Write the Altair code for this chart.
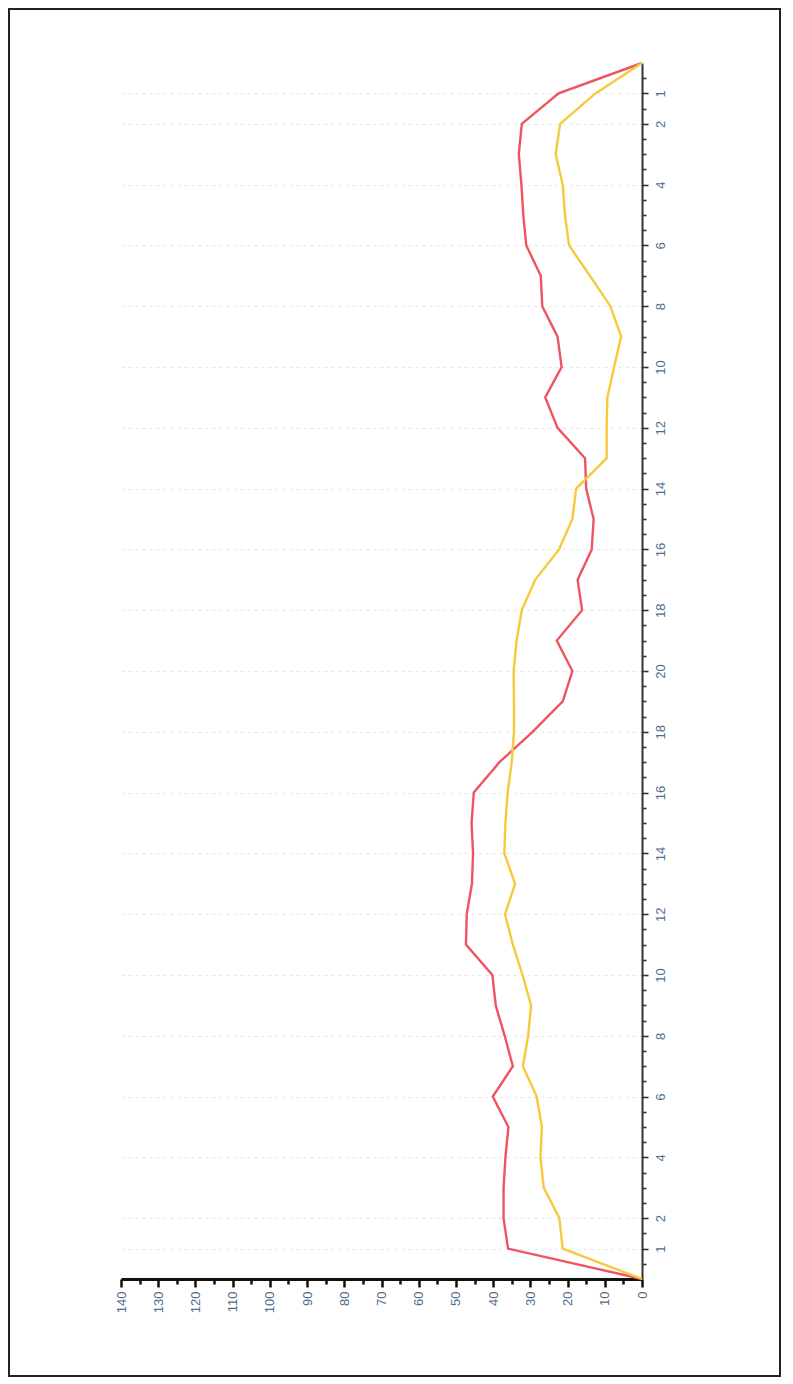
import altair as alt
import pandas as pd

# Category positions along the (rotated) category axis: 0 .. 40
positions = list(range(41))

red_values = [0, 22.4, 32.3, 33.1, 32.4, 31.9, 31.1, 27.2, 26.8, 22.7, 21.6,
              26.0, 22.7, 15.3, 15.0, 13.0, 13.5, 17.3, 16.1, 22.9, 18.7,
              21.3, 29.4, 38.3, 45.2, 45.8, 45.4, 45.7, 47.1, 47.3, 40.2,
              39.3, 36.9, 34.7, 40.1, 35.9, 36.7, 37.2, 37.2, 36.0, 0]

yellow_values = [0, 12.5, 22.0, 23.2, 21.3, 20.7, 19.6, 14.0, 8.5, 5.6, 7.5,
                 9.3, 9.5, 9.5, 17.7, 18.7, 22.3, 28.7, 32.3, 33.7, 34.5,
                 34.4, 34.4, 35.0, 36.1, 36.7, 37.0, 34.1, 36.8, 34.7, 32.1,
                 29.8, 30.6, 32.0, 28.3, 26.9, 27.3, 26.4, 22.2, 21.3, 0]

y_tick_positions = [1, 2, 4, 6, 8, 10, 12, 14, 16, 18, 20, 22, 24, 26, 28, 30,
                    32, 34, 36, 38, 39]
y_tick_labels = ['1', '2', '4', '6', '8', '10', '12', '14', '16', '18', '20',
                 '18', '16', '14', '12', '10', '8', '6', '4', '2', '1']
y_all_ticks = [i * 0.5 for i in range(1, 80)]

x_all_ticks = list(range(0, 141, 5))

red_df = pd.DataFrame({'p': positions, 'v': red_values})
yellow_df = pd.DataFrame({'p': positions, 'v': yellow_values})
frame_df = pd.DataFrame({'k': [0]})

major_list = ",".join(str(p) for p in y_tick_positions)
y_is_major = "indexof([" + major_list + "], datum.value) >= 0"
label_expr = ("indexof([" + major_list + "], datum.value) >= 0 ? ["
              + ",".join("'%s'" % l for l in y_tick_labels) + "][indexof(["
              + major_list + "], datum.value)] : ''")
x_is_major = "datum.value % 10 === 0"

LABEL_COLOR = '#4f6d8c'
FONT = 'Liberation Sans'

x_scale = alt.Scale(domain=[0, 140], reverse=True, nice=False)
y_scale = alt.Scale(domain=[0, 40], reverse=True, nice=False)

x_axis = alt.Axis(
    values=x_all_ticks, tickCount=500, title=None, orient='bottom', labelAngle=270,
    labelExpr="datum.value % 10 === 0 ? format(datum.value, 'd') : ''",
    labelOverlap=False,
    tickSize={'condition': {'test': x_is_major, 'value': 8}, 'value': 5},
    tickWidth=2.5, tickColor='#111111',
    domainColor='#111111', domainWidth=3, labelColor=LABEL_COLOR,
    labelFontSize=13, labelFont=FONT, labelPadding=4, grid=False)

y_axis = alt.Axis(
    values=y_all_ticks, tickCount=500, labelExpr=label_expr, title=None,
    orient='right', labelAngle=270, grid=True, labelOverlap=False,
    gridOpacity={'condition': {'test': y_is_major, 'value': 1}, 'value': 0},
    gridDash=[3, 4], gridColor='#e4e4e4', gridWidth=1,
    tickSize={'condition': {'test': y_is_major, 'value': 6}, 'value': 4},
    tickWidth=1.6, tickColor='#333333', domainColor='#333333', domainWidth=2,
    labelColor=LABEL_COLOR, labelFontSize=13, labelFont=FONT, labelPadding=6)

base_red = alt.Chart(red_df).mark_line(color='#ef5560', strokeWidth=2.4).encode(
    x=alt.X('v:Q', scale=x_scale, axis=x_axis),
    y=alt.Y('p:Q', scale=y_scale, axis=y_axis),
    order='p:Q',
)

yellow = alt.Chart(yellow_df).mark_line(color='#f7c93c', strokeWidth=2.4).encode(
    x=alt.X('v:Q', scale=x_scale),
    y=alt.Y('p:Q', scale=y_scale),
    order='p:Q',
)

frame = alt.Chart(frame_df).mark_rect(filled=False, stroke='#222222', strokeWidth=2).encode(
    x=alt.value(-112), x2=alt.value(659), y=alt.value(-54), y2=alt.value(1313)
)

chart = alt.layer(frame, base_red, yellow).properties(
    width=521, height=1216, padding=0, background='white'
).configure_view(stroke=None)

chart.save("out.html", embed_options={"renderer": "svg", "actions": False})
